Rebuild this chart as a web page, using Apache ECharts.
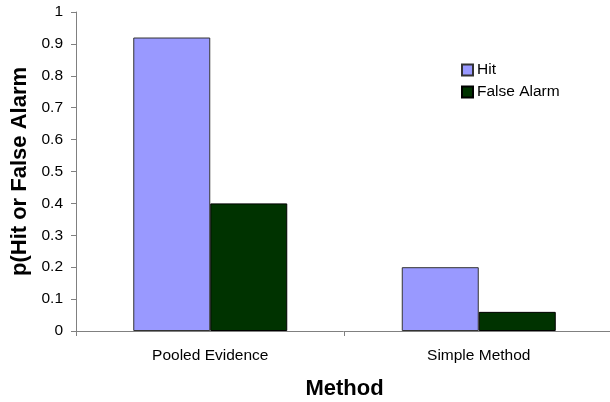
<!DOCTYPE html>
<html>
<head>
<meta charset="utf-8">
<script src="https://cdn.jsdelivr.net/npm/echarts@6/dist/echarts.min.js"></script>
<style>
  html, body { margin: 0; padding: 0; background: #fff; }
  #chart { width: 610px; height: 402px; }
</style>
</head>
<body>
<div id="chart"></div>
<script>
// Hit and false-alarm rates for each method
const categories = ['Pooled Evidence', 'Simple Method'];
const hitRates = [0.92, 0.20];
const falseAlarmRates = [0.40, 0.06];
const yTicks = [0, 0.1, 0.2, 0.3, 0.4, 0.5, 0.6, 0.7, 0.8, 0.9, 1];

const font = 'Liberation Sans, Arial, sans-serif';
const chart = echarts.init(document.getElementById('chart'), null, { renderer: 'canvas' });

chart.setOption({
  animation: false,
  backgroundColor: '#ffffff',
  textStyle: { fontFamily: font },
  grid: {
    left: 76, top: 12, width: 537, height: 319,
    containLabel: false,
    outerBoundsMode: 'none'
  },
  legend: {
    orient: 'vertical',
    left: 456,
    top: 57,
    itemWidth: 11,
    itemHeight: 11,
    itemGap: 6,
    icon: 'rect',
    textStyle: { fontFamily: font, fontSize: 15.5, color: '#000', padding: [0, 0, 0, -1] },
    data: ['Hit', 'False Alarm']
  },
  xAxis: {
    type: 'category',
    data: categories,
    name: 'Method',
    nameLocation: 'middle',
    nameGap: 47,
    nameTextStyle: { fontFamily: font, fontSize: 22, fontWeight: 'bold', color: '#000' },
    axisLine: { lineStyle: { color: '#808080', width: 1 } },
    axisTick: { show: true, length: 5, lineStyle: { color: '#808080' } },
    axisLabel: { fontFamily: font, fontSize: 15.5, color: '#000', margin: 17 }
  },
  yAxis: {
    type: 'value',
    min: yTicks[0],
    max: yTicks[yTicks.length - 1],
    interval: 0.1,
    name: 'p(Hit or False Alarm',
    nameLocation: 'middle',
    nameGap: 43,
    nameRotate: 90,
    nameTextStyle: { fontFamily: font, fontSize: 22, fontWeight: 'bold', color: '#000' },
    splitLine: { show: false },
    axisLine: { show: true, lineStyle: { color: '#808080', width: 1 } },
    axisTick: { show: true, length: 5, inside: false, lineStyle: { color: '#808080' } },
    axisLabel: {
      fontFamily: font, fontSize: 15.5, color: '#000', margin: 13,
      formatter: v => String(Math.round(v * 10) / 10)
    }
  },
  series: [
    {
      name: 'Hit',
      type: 'bar',
      data: hitRates,
      barWidth: 77,
      barGap: '0%',
      itemStyle: { color: '#9999ff', borderColor: '#333', borderWidth: 1 }
    },
    {
      name: 'False Alarm',
      type: 'bar',
      data: falseAlarmRates,
      barWidth: 77,
      barGap: '0%',
      itemStyle: { color: '#003300', borderColor: '#000', borderWidth: 1 }
    }
  ]
});
</script>
</body>
</html>
